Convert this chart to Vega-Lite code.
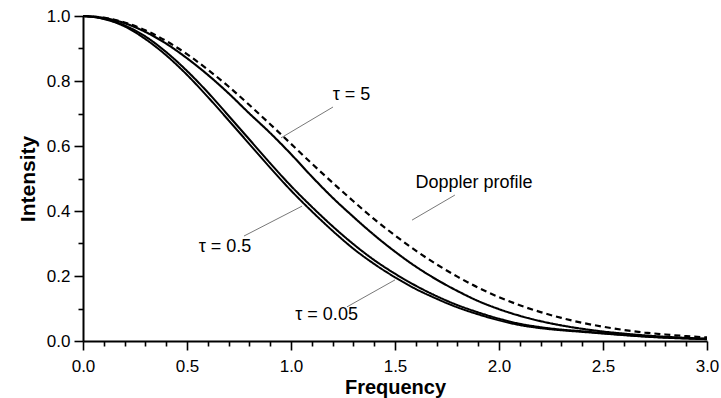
{
  "$schema": "https://vega.github.io/schema/vega-lite/v6.json",
  "autosize": "none",
  "width": 624,
  "height": 325,
  "padding": {"left": 83, "top": 16, "right": 14, "bottom": 57},
  "background": "white",
  "config": {
    "view": {"stroke": null},
    "font": "Liberation Sans",
    "axis": {"grid": false, "domainColor": "black", "domainWidth": 2, "tickColor": "black", "tickWidth": 1.6, "labelColor": "black", "titleColor": "black", "labelFont": "Liberation Sans", "titleFont": "Liberation Sans", "labelFontSize": 17, "titleFontSize": 20, "titleFontWeight": "bold"}
  },
  "datasets": {
    "curves": [
      {"x":0,"y":1,"c":"Doppler"},{"x":0.1,"y":0.995,"c":"Doppler"},{"x":0.2,"y":0.98,"c":"Doppler"},{"x":0.3,"y":0.956,"c":"Doppler"},{"x":0.4,"y":0.923,"c":"Doppler"},{"x":0.5,"y":0.8825,"c":"Doppler"},{"x":0.6,"y":0.835,"c":"Doppler"},{"x":0.7,"y":0.783,"c":"Doppler"},{"x":0.8,"y":0.726,"c":"Doppler"},{"x":0.9,"y":0.667,"c":"Doppler"},{"x":1.0,"y":0.6065,"c":"Doppler"},{"x":1.1,"y":0.546,"c":"Doppler"},{"x":1.2,"y":0.487,"c":"Doppler"},{"x":1.3,"y":0.43,"c":"Doppler"},{"x":1.4,"y":0.375,"c":"Doppler"},{"x":1.5,"y":0.325,"c":"Doppler"},{"x":1.6,"y":0.278,"c":"Doppler"},{"x":1.7,"y":0.236,"c":"Doppler"},{"x":1.8,"y":0.198,"c":"Doppler"},{"x":1.9,"y":0.164,"c":"Doppler"},{"x":2.0,"y":0.135,"c":"Doppler"},{"x":2.1,"y":0.11,"c":"Doppler"},{"x":2.2,"y":0.089,"c":"Doppler"},{"x":2.3,"y":0.071,"c":"Doppler"},{"x":2.4,"y":0.056,"c":"Doppler"},{"x":2.5,"y":0.044,"c":"Doppler"},{"x":2.6,"y":0.034,"c":"Doppler"},{"x":2.7,"y":0.026,"c":"Doppler"},{"x":2.8,"y":0.02,"c":"Doppler"},{"x":2.9,"y":0.015,"c":"Doppler"},{"x":3.0,"y":0.011,"c":"Doppler"},
      {"x":0,"y":1,"c":"t5"},{"x":0.1,"y":0.994,"c":"t5"},{"x":0.2,"y":0.978,"c":"t5"},{"x":0.3,"y":0.951,"c":"t5"},{"x":0.4,"y":0.915,"c":"t5"},{"x":0.5,"y":0.87,"c":"t5"},{"x":0.6,"y":0.819,"c":"t5"},{"x":0.7,"y":0.762,"c":"t5"},{"x":0.8,"y":0.7,"c":"t5"},{"x":0.9,"y":0.64,"c":"t5"},{"x":1.0,"y":0.575,"c":"t5"},{"x":1.1,"y":0.506,"c":"t5"},{"x":1.2,"y":0.441,"c":"t5"},{"x":1.3,"y":0.382,"c":"t5"},{"x":1.4,"y":0.326,"c":"t5"},{"x":1.5,"y":0.275,"c":"t5"},{"x":1.6,"y":0.229,"c":"t5"},{"x":1.7,"y":0.189,"c":"t5"},{"x":1.8,"y":0.154,"c":"t5"},{"x":1.9,"y":0.123,"c":"t5"},{"x":2.0,"y":0.098,"c":"t5"},{"x":2.1,"y":0.0775,"c":"t5"},{"x":2.2,"y":0.061,"c":"t5"},{"x":2.3,"y":0.048,"c":"t5"},{"x":2.4,"y":0.0375,"c":"t5"},{"x":2.5,"y":0.029,"c":"t5"},{"x":2.6,"y":0.0227,"c":"t5"},{"x":2.7,"y":0.0172,"c":"t5"},{"x":2.8,"y":0.013,"c":"t5"},{"x":2.9,"y":0.0096,"c":"t5"},{"x":3.0,"y":0.007,"c":"t5"},
      {"x":0,"y":1,"c":"t05"},{"x":0.1,"y":0.992,"c":"t05"},{"x":0.2,"y":0.971,"c":"t05"},{"x":0.3,"y":0.937,"c":"t05"},{"x":0.4,"y":0.889,"c":"t05"},{"x":0.5,"y":0.831,"c":"t05"},{"x":0.6,"y":0.765,"c":"t05"},{"x":0.7,"y":0.693,"c":"t05"},{"x":0.8,"y":0.62,"c":"t05"},{"x":0.9,"y":0.547,"c":"t05"},{"x":1.0,"y":0.477,"c":"t05"},{"x":1.1,"y":0.413,"c":"t05"},{"x":1.2,"y":0.353,"c":"t05"},{"x":1.3,"y":0.298,"c":"t05"},{"x":1.4,"y":0.249,"c":"t05"},{"x":1.5,"y":0.207,"c":"t05"},{"x":1.6,"y":0.17,"c":"t05"},{"x":1.7,"y":0.138,"c":"t05"},{"x":1.8,"y":0.1105,"c":"t05"},{"x":1.9,"y":0.088,"c":"t05"},{"x":2.0,"y":0.0685,"c":"t05"},{"x":2.1,"y":0.053,"c":"t05"},{"x":2.2,"y":0.0425,"c":"t05"},{"x":2.3,"y":0.035,"c":"t05"},{"x":2.4,"y":0.03,"c":"t05"},{"x":2.5,"y":0.024,"c":"t05"},{"x":2.6,"y":0.019,"c":"t05"},{"x":2.7,"y":0.0145,"c":"t05"},{"x":2.8,"y":0.011,"c":"t05"},{"x":2.9,"y":0.0085,"c":"t05"},{"x":3.0,"y":0.0065,"c":"t05"},
      {"x":0,"y":1,"c":"t005"},{"x":0.1,"y":0.991,"c":"t005"},{"x":0.2,"y":0.968,"c":"t005"},{"x":0.3,"y":0.929,"c":"t005"},{"x":0.4,"y":0.879,"c":"t005"},{"x":0.5,"y":0.819,"c":"t005"},{"x":0.6,"y":0.751,"c":"t005"},{"x":0.7,"y":0.679,"c":"t005"},{"x":0.8,"y":0.606,"c":"t005"},{"x":0.9,"y":0.533,"c":"t005"},{"x":1.0,"y":0.463,"c":"t005"},{"x":1.1,"y":0.399,"c":"t005"},{"x":1.2,"y":0.339,"c":"t005"},{"x":1.3,"y":0.284,"c":"t005"},{"x":1.4,"y":0.237,"c":"t005"},{"x":1.5,"y":0.196,"c":"t005"},{"x":1.6,"y":0.16,"c":"t005"},{"x":1.7,"y":0.13,"c":"t005"},{"x":1.8,"y":0.1035,"c":"t005"},{"x":1.9,"y":0.082,"c":"t005"},{"x":2.0,"y":0.0635,"c":"t005"},{"x":2.1,"y":0.049,"c":"t005"},{"x":2.2,"y":0.0395,"c":"t005"},{"x":2.3,"y":0.033,"c":"t005"},{"x":2.4,"y":0.028,"c":"t005"},{"x":2.5,"y":0.023,"c":"t005"},{"x":2.6,"y":0.018,"c":"t005"},{"x":2.7,"y":0.0135,"c":"t005"},{"x":2.8,"y":0.01,"c":"t005"},{"x":2.9,"y":0.0075,"c":"t005"},{"x":3.0,"y":0.0055,"c":"t005"}
    ],
    "labels": [
      {"x":1.291,"y":0.757,"text":"τ = 5"},
      {"x":1.88,"y":0.486,"text":"Doppler profile"},
      {"x":0.683,"y":0.289,"text":"τ = 0.5"},
      {"x":1.171,"y":0.08,"text":"τ = 0.05"}
    ],
    "leaders": [
      {"x":1.202,"y":0.72,"x2":0.952,"y2":0.625},
      {"x":1.788,"y":0.449,"x2":1.582,"y2":0.372},
      {"x":0.774,"y":0.323,"x2":1.053,"y2":0.415},
      {"x":1.269,"y":0.105,"x2":1.5,"y2":0.188}
    ]
  },
  "resolve": {"scale": {"x": "shared", "y": "shared"}, "axis": {"x": "independent", "y": "independent"}},
  "layer": [
    {
      "data": {"name": "curves"},
      "mark": {"type": "line", "interpolate": "monotone", "color": "black"},
      "encoding": {
        "x": {"field": "x", "type": "quantitative", "scale": {"domain": [0, 3], "nice": false, "zero": false},
          "axis": {"orient": "bottom", "title": "Frequency", "values": [0,0.5,1,1.5,2,2.5,3], "format": ".1f", "tickSize": 9,
            "labelOverlap": false, "labelFlush": false, "labelPadding": 8, "titlePadding": 3}},
        "y": {"field": "y", "type": "quantitative", "scale": {"domain": [0, 1], "nice": false},
          "axis": {"orient": "left", "title": "Intensity", "titleFontSize": 21, "values": [0,0.2,0.4,0.6,0.8,1], "format": ".1f", "tickSize": 9,
            "labelOverlap": false, "labelFlush": false, "labelPadding": 4, "titlePadding": 8}},
        "detail": {"field": "c"},
        "strokeDash": {"field": "c", "type": "nominal", "scale": {"domain": ["Doppler","t5","t05","t005"], "range": [[6,4],[1,0],[1,0],[1,0]]}, "legend": null},
        "strokeWidth": {"field": "c", "type": "nominal", "scale": {"domain": ["Doppler","t5","t05","t005"], "range": [2.2,2,1.5,1.5]}, "legend": null}
      }
    },
    {
      "data": {"name": "leaders"},
      "mark": {"type": "rule", "color": "#555555", "strokeWidth": 0.8},
      "encoding": {
        "x": {"field": "x", "type": "quantitative",
          "axis": {"orient": "bottom", "title": null, "values": [0.1,0.2,0.3,0.4,0.6,0.7,0.8,0.9,1.1,1.2,1.3,1.4,1.6,1.7,1.8,1.9,2.1,2.2,2.3,2.4,2.6,2.7,2.8,2.9], "labels": false, "domain": false, "tickSize": 5}},
        "y": {"field": "y", "type": "quantitative",
          "axis": {"orient": "left", "title": null, "values": [0.1,0.3,0.5,0.7,0.9], "labels": false, "domain": false, "tickSize": 5}},
        "x2": {"field": "x2"},
        "y2": {"field": "y2"}
      }
    },
    {
      "data": {"name": "labels"},
      "mark": {"type": "text", "font": "Liberation Sans", "fontSize": 18, "color": "black", "align": "center", "baseline": "middle"},
      "encoding": {
        "x": {"field": "x", "type": "quantitative", "axis": null},
        "y": {"field": "y", "type": "quantitative", "axis": null},
        "text": {"field": "text"}
      }
    }
  ]
}
